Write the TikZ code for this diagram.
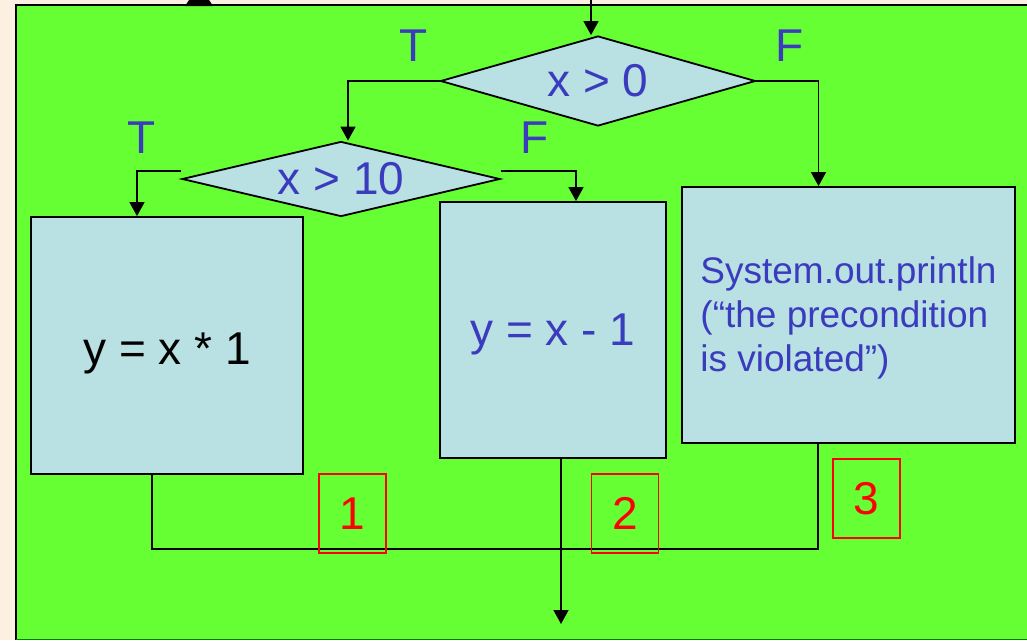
\documentclass[tikz,border=0pt]{standalone}
\usepackage{fontspec}
\setmainfont{Liberation Sans}
\usetikzlibrary{shapes.geometric,arrows.meta}
\definecolor{bgc}{HTML}{FBF0E2}
\definecolor{grn}{HTML}{66FF33}
\definecolor{boxc}{HTML}{B9E0E3}
\definecolor{txtb}{HTML}{3B3BBE}
\begin{document}
\begin{tikzpicture}[x=1pt,y=-1pt,
  big/.style={font=\fontsize{46}{55}\selectfont},
  dia/.style={diamond, draw=black, line width=1.8pt, fill=boxc, inner sep=0pt, text=txtb, big},
  stepbox/.style={rectangle, draw=black, line width=1.8pt, fill=boxc, inner sep=0pt},
  lbl/.style={text=txtb, big, inner sep=0pt},
  num/.style={rectangle, draw=red, line width=1.3pt, text=red, big, minimum width=67pt, minimum height=79pt, inner sep=0pt},
  conn/.style={draw=black, line width=1.6pt},
  arr/.style={conn, -{Triangle[length=14pt,width=15pt]}}
]
\useasboundingbox (0,0) rectangle (1027,640);
\fill[bgc] (0,0) rectangle (1027,640);
\fill[grn] (16,5) rectangle (1027,640);
\draw[line width=2pt] (16,640) -- (16,5) -- (1027,5);
\draw[line width=1pt, green!50!black] (16,639.5) -- (1027,639.5);
\fill[black] (185,6) -- (189,0) -- (209,0) -- (213,6) -- cycle;

% decisions
\node[dia, minimum width=315pt, minimum height=90pt, shape aspect=3.5] (d1) at (598,81) {x > 0};
\node[dia, minimum width=318pt, minimum height=75pt, shape aspect=4.2] (d2) at (341,179) {x > 10};

% boxes
\node[stepbox, minimum width=272pt, minimum height=257pt,
      label={[big, text=black, inner sep=0pt, yshift=-8pt]center:y = x * 1}] (b1) at (167,345.5) {};
\node[stepbox, minimum width=226pt, minimum height=256pt,
      label={[big, text=txtb, inner sep=0pt, yshift=-4pt]center:y = x - 1}] (b2) at (553,330) {};
\node[stepbox, minimum width=333pt, minimum height=256pt,
      label={[text=txtb, align=left, inner sep=0pt, yshift=-3pt, font=\fontsize{37}{44}\selectfont]center:System.out.println\\(“the precondition\\is violated”)}] (b3) at (848.5,315) {};

% labels
\node[lbl] (t1) at (414,46) {T};
\node[lbl] (f1) at (790,46) {F};
\node[lbl] (t2) at (142,138) {T};
\node[lbl] (f2) at (535,138) {F};

% connectors
\coordinate (top) at (591,0);
\draw[arr] (top) -- (top |- d1.north);
\draw[arr] (d1.west) -| ([xshift=7pt]d2.north);
\draw[arr] (d1.east) -| ([xshift=-30pt]b3.north);
\draw[arr] ([yshift=8pt]d2.west) -| ([xshift=-30pt]b1.north);
\draw[arr] ([yshift=8pt]d2.east) -| ([xshift=23pt]b2.north);
\coordinate (j1) at (152,549);
\coordinate (j2) at (818,549);
\draw[conn] ([xshift=-15pt]b1.south) -- (j1) -- (j2) -- ([xshift=-30.5pt]b3.south);
\coordinate (out) at (561,624);
\draw[arr] ([xshift=8pt]b2.south) -- (out);

% numbered boxes
\node[num] (n1) at (352.5,513.5) {1};
\node[num] (n2) at (625,513.5) {2};
\node[num] (n3) at (866.5,498.5) {3};
\end{tikzpicture}
\end{document}
